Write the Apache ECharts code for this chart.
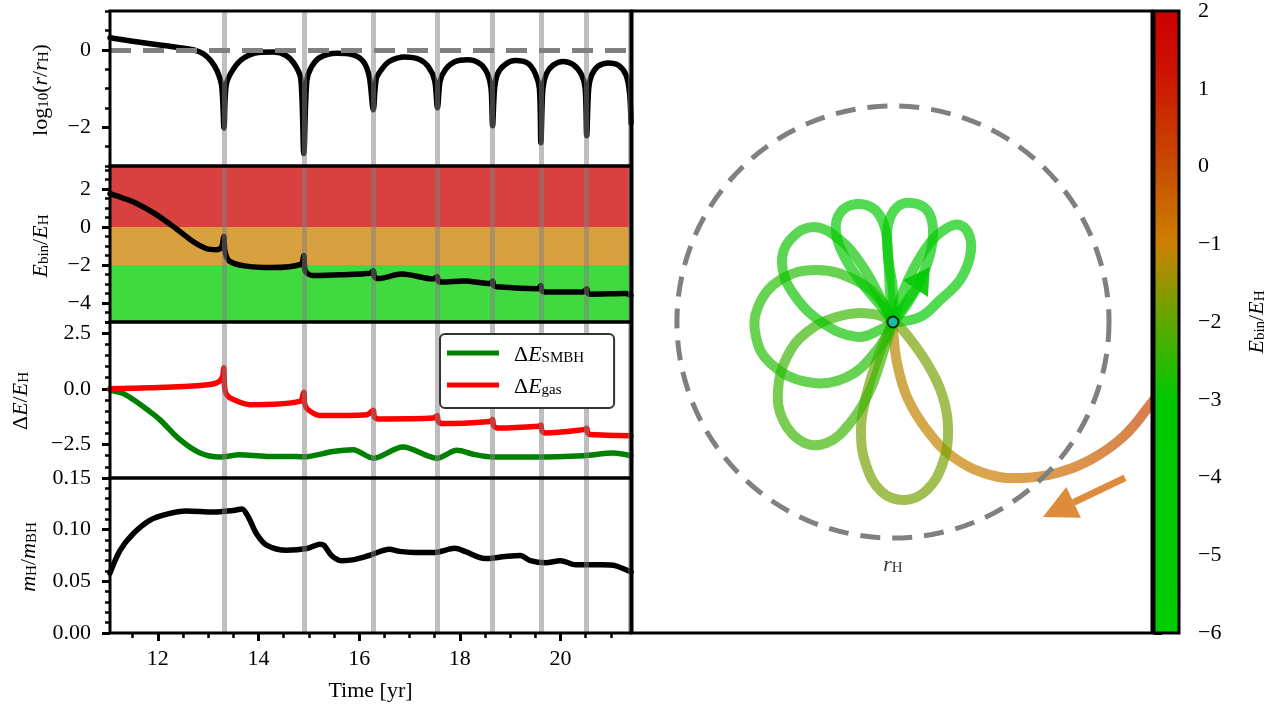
<!DOCTYPE html>
<html><head><meta charset="utf-8">
<script src="https://cdn.jsdelivr.net/npm/echarts@6/dist/echarts.min.js"></script>
<style>html,body{margin:0;padding:0;background:#fff}#c{width:1274px;height:710px}</style>
</head><body><div id="c"></div>
<script>
// ================= DATA =================
const tMin = 11.05, tMax = 21.4;
const pericenterTimes = [13.31, 14.9, 16.28, 17.55, 18.65, 19.61, 20.52, 21.38];

// panel 1 : log10(r / r_H)
const logRTime = [11.05,11.5,12.0,12.4,12.7,12.9,13.05,13.18,13.27,13.315,13.36,13.5,13.7,14.0,14.3,14.55,14.72,14.84,14.9,14.96,15.05,15.22,15.55,15.88,16.08,16.2,16.28,16.34,16.45,16.6,16.9,17.2,17.38,17.5,17.555,17.61,17.72,17.9,18.15,18.4,18.55,18.62,18.65,18.69,18.75,18.9,19.1,19.35,19.5,19.58,19.61,19.65,19.72,19.85,20.05,20.25,20.42,20.49,20.52,20.56,20.62,20.75,20.95,21.15,21.3,21.37,21.40];
const logRVal  = [0.31,0.22,0.13,0.06,0.0,-0.1,-0.28,-0.55,-0.95,-2.02,-0.9,-0.5,-0.22,-0.07,-0.06,-0.15,-0.38,-0.75,-2.68,-0.8,-0.45,-0.2,-0.09,-0.13,-0.3,-0.69,-1.55,-0.75,-0.5,-0.3,-0.19,-0.25,-0.45,-0.8,-1.5,-0.8,-0.5,-0.31,-0.26,-0.36,-0.62,-1.0,-1.96,-1.0,-0.62,-0.38,-0.28,-0.35,-0.62,-1.0,-2.4,-1.0,-0.62,-0.4,-0.3,-0.38,-0.65,-1.0,-2.22,-1.0,-0.65,-0.42,-0.34,-0.4,-0.65,-1.1,-1.89];

// panel 2 : E_bin / E_H
const ebinTime = [11.05,11.3,11.54,11.95,12.36,12.7,12.97,13.17,13.27,13.31,13.335,13.42,13.72,14.26,14.84,14.9,14.925,15.08,15.62,16.22,16.28,16.3,16.37,16.85,17.47,17.55,17.57,17.64,18.08,18.6,18.65,18.67,18.73,19.55,19.61,19.63,19.68,20.45,20.52,20.54,20.6,21.3,21.4];
const ebinVal  = [1.75,1.52,1.28,0.68,-0.09,-0.77,-1.15,-1.2,-1.05,-0.5,-1.3,-1.79,-2.05,-2.14,-1.97,-1.5,-2.3,-2.56,-2.51,-2.44,-2.3,-2.6,-2.72,-2.48,-2.74,-2.62,-2.85,-2.9,-2.84,-2.98,-2.85,-3.08,-3.15,-3.25,-3.08,-3.35,-3.42,-3.42,-3.25,-3.48,-3.54,-3.5,-3.62];
const bandEdges = [-5, -2, 0, 3.2];

// panel 3 : Delta E / E_H
const gasTime = [11.05,11.84,12.84,13.17,13.28,13.31,13.33,13.38,13.5,13.83,14.82,14.9,14.92,14.98,15.22,16.15,16.28,16.3,16.38,17.47,17.55,17.57,17.65,18.6,18.65,18.67,18.75,19.56,19.61,19.63,19.7,20.46,20.52,20.54,20.6,21.4];
const gasVal  = [0.0,0.05,0.15,0.27,0.5,0.95,0.0,-0.3,-0.48,-0.71,-0.56,-0.15,-0.7,-0.93,-1.2,-1.16,-0.96,-1.25,-1.35,-1.31,-1.2,-1.45,-1.56,-1.46,-1.38,-1.65,-1.76,-1.68,-1.62,-1.88,-1.98,-1.83,-1.77,-1.98,-2.05,-2.1];
const smbhTime = [11.05,11.3,11.51,11.8,12.04,12.44,12.84,13.23,13.63,14.16,14.6,14.9,15.48,15.88,16.28,16.87,17.54,17.94,18.3,18.66,19.46,20.45,21.05,21.4];
const smbhVal  = [-0.05,-0.2,-0.48,-0.95,-1.38,-2.28,-2.88,-3.06,-2.96,-3.03,-3.03,-3.05,-2.81,-2.73,-3.11,-2.61,-3.11,-2.76,-2.95,-3.06,-3.06,-3.0,-2.88,-3.0];

// panel 4 : m_H / m_BH
const massTime = [11.05,11.25,11.51,11.84,12.18,12.57,13.1,13.5,13.67,13.8,13.96,14.16,14.56,14.96,15.22,15.3,15.45,15.65,15.9,16.2,16.6,16.8,17.1,17.5,17.9,18.1,18.5,18.9,19.2,19.4,19.7,20.0,20.3,20.6,20.8,21.1,21.4];
const massVal  = [0.058,0.080,0.096,0.109,0.115,0.118,0.117,0.1186,0.120,0.112,0.096,0.085,0.080,0.0817,0.086,0.085,0.075,0.070,0.071,0.075,0.081,0.079,0.078,0.078,0.082,0.079,0.072,0.074,0.075,0.070,0.068,0.070,0.066,0.066,0.066,0.065,0.059];

// tick values
const xMajor = [12,14,16,18,20];
const xMinor = [11.5,12.5,13,13.5,14.5,15,15.5,16.5,17,17.5,18.5,19,19.5,20.5,21];
const y1Major = [0,-2], y1Minor = [-3,-2.5,-1.5,-1,-0.5,0.5,1];
const y2Major = [2,0,-2,-4], y2Minor = [-5,-4.5,-3.5,-3,-2.5,-1.5,-1,-0.5,0.5,1,1.5,2.5,3];
const y3Major = [2.5,0,-2.5], y3Minor = [-4,-3.5,-3,-2,-1.5,-1,-0.5,0.5,1,1.5,2,3];
const y4Major = [0,0.05,0.1,0.15], y4Minor = [0.01,0.02,0.03,0.04,0.06,0.07,0.08,0.09,0.11,0.12,0.13,0.14];

// right panel: trajectory in units of r_H (binary companion at origin)
const trajIncoming = [[1.282,-0.259],[1.190,-0.384],[1.065,-0.532],[0.912,-0.639],[0.759,-0.699],[0.602,-0.722],[0.449,-0.708],[0.278,-0.625],[0.157,-0.500],[0.065,-0.347],[0.019,-0.190],[0.0,-0.037],[0,0]];
const incomingE = [0.4,0.2,-0.1,-0.4,-0.65,-0.85,-0.95,-1.05,-1.1,-1.15,-1.2,-1.2,-1.2];
const petals = [
  [[0,0],[0.046,-0.037],[0.157,-0.190],[0.231,-0.347],[0.255,-0.500],[0.231,-0.653],[0.157,-0.778],[0.056,-0.824],[-0.051,-0.787],[-0.125,-0.662],[-0.148,-0.500],[-0.125,-0.347],[-0.074,-0.176],[-0.023,-0.051],[0,0]],
  [[0,0],[-0.093,0.037],[-0.245,0.028],[-0.398,-0.046],[-0.491,-0.162],[-0.532,-0.315],[-0.509,-0.454],[-0.417,-0.556],[-0.306,-0.560],[-0.199,-0.468],[-0.106,-0.315],[-0.046,-0.144],[0,0]],
  [[0,0],[-0.060,0.102],[-0.167,0.190],[-0.352,0.241],[-0.523,0.194],[-0.625,0.069],[-0.634,-0.069],[-0.569,-0.190],[-0.398,-0.278],[-0.213,-0.255],[-0.074,-0.130],[0,0]],
  [[0,0],[-0.060,0.116],[-0.139,0.255],[-0.245,0.380],[-0.370,0.440],[-0.477,0.380],[-0.514,0.273],[-0.463,0.134],[-0.324,-0.005],[-0.167,-0.069],[-0.060,-0.037],[0,0]],
  [[0,0],[-0.060,0.079],[-0.144,0.181],[-0.222,0.296],[-0.264,0.417],[-0.245,0.505],[-0.167,0.546],[-0.083,0.519],[-0.037,0.435],[-0.023,0.310],[-0.014,0.148],[0,0]],
  [[0,0],[0,0.148],[-0.023,0.310],[-0.023,0.449],[0.019,0.532],[0.088,0.551],[0.157,0.519],[0.185,0.435],[0.171,0.310],[0.116,0.171],[0.056,0.069],[0,0]],
  [[0,0],[0.032,0.102],[0.093,0.241],[0.171,0.366],[0.250,0.435],[0.310,0.449],[0.356,0.394],[0.356,0.301],[0.310,0.194],[0.218,0.102],[0.125,0.023],[0,0]]
];
const petalE = [-1.8,-2.4,-2.65,-2.85,-3.0,-3.2,-3.4];
const finalLeg = [[0,0,0.171,0.255]];
const incomingArrow = [[1.074,-0.722,0.694,-0.903]];
const hillRadius = [[0,0,1]];
const companion = [[0,0]];
const hillLabelPos = [0,-1.116];

// colour bar
const cbarMin = -6, cbarMax = 2;
const cmapV = [2, 1.2, 0, -1, -2, -3, -6];
const cmapC = ['#cc0000','#cc1400','#c84c00','#cc8000','#5ea800','#00c800','#00cc00'];

// ================= HELPERS =================
const FONT = 'Liberation Serif';
const zip = (a,b) => a.map((x,i)=>[x,b[i]]);
const hex2rgb = h => [1,3,5].map(i=>parseInt(h.substr(i,2),16));
function cmap(v){
  v = Math.max(cbarMin, Math.min(cbarMax, v));
  for (let i=0;i<cmapV.length-1;i++){
    if (v<=cmapV[i] && v>=cmapV[i+1]){
      const t=(cmapV[i]-v)/(cmapV[i]-cmapV[i+1]);
      const a=hex2rgb(cmapC[i]), b=hex2rgb(cmapC[i+1]);
      return 'rgb('+a.map((x,k)=>Math.round(x+(b[k]-x)*t)).join(',')+')';
    }
  }
  return cmapC[cmapC.length-1];
}
const minus = s => String(s).replace('-', '\u2212');
const rich = {
  rm: {fontFamily: FONT, fontSize: 22, lineHeight: 26, verticalAlign: 'bottom', color: '#000'},
  it: {fontFamily: FONT, fontSize: 22, fontStyle: 'italic', lineHeight: 26, verticalAlign: 'bottom', color: '#000'},
  sub:{fontFamily: FONT, fontSize: 15, lineHeight: 12, verticalAlign: 'bottom', color: '#000'}
};

const L = 110, W = 521;
const gridBase = {show: true, borderColor: '#000', borderWidth: 3, backgroundColor: 'transparent', z: 10};
const grids = [
  Object.assign({left: L, top: 11, width: W, height: 155}, gridBase),
  Object.assign({left: L, top: 166, width: W, height: 156}, gridBase),
  Object.assign({left: L, top: 322, width: W, height: 156}, gridBase),
  Object.assign({left: L, top: 478, width: W, height: 155}, gridBase),
  Object.assign({left: 632, top: 11, width: 520, height: 622}, gridBase),
  Object.assign({left: 1154, top: 11, width: 25, height: 622}, gridBase)
];

const hiddenX = gi => ({gridIndex: gi, type: 'value', min: tMin, max: tMax, axisLine:{show:false}, axisTick:{show:false}, axisLabel:{show:false}, splitLine:{show:false}});
const xAxes = [
  hiddenX(0), hiddenX(1), hiddenX(2),
  {gridIndex: 3, type: 'value', min: tMin, max: tMax, position: 'bottom', axisLine:{show:false}, splitLine:{show:false},
   axisTick:{customValues: xMajor, length: 8, lineStyle:{width:3, color:'#000'}},
   axisLabel:{customValues: xMajor, margin: 15, fontFamily: FONT, fontSize: 22, color:'#000'},
   name: 'Time [yr]', nameLocation: 'middle', nameGap: 47, nameTextStyle:{fontFamily: FONT, fontSize: 22, color:'#000'}},
  {gridIndex: 3, type: 'value', min: tMin, max: tMax, position: 'bottom', axisLine:{show:false}, splitLine:{show:false},
   axisTick:{customValues: xMinor, length: 5, lineStyle:{width:2.5, color:'#000'}}, axisLabel:{show:false}},
  {gridIndex: 4, type: 'value', min: -1.208, max: 1.199, show: false},
  {gridIndex: 5, type: 'value', min: 0, max: 1, show: false}
];

const mkY = (gi, min, max, major, minor, fmt) => [
  {gridIndex: gi, type:'value', min, max, position:'left', axisLine:{show:false}, splitLine:{show:false},
   axisTick:{customValues: major, length: 8, lineStyle:{width:3, color:'#000'}},
   axisLabel:{customValues: major, formatter: fmt, margin: 19, fontFamily: FONT, fontSize: 22, color:'#000'}},
  {gridIndex: gi, type:'value', min, max, position:'left', axisLine:{show:false}, splitLine:{show:false},
   axisTick:{customValues: minor, length: 5, lineStyle:{width:2.5, color:'#000'}}, axisLabel:{show:false}}
];
const yAxes = [].concat(
  mkY(0, -3, 1, y1Major, y1Minor, v => minus(v)),
  mkY(1, -5, 3.2, y2Major, y2Minor, v => minus(v)),
  mkY(2, -4, 3, y3Major, y3Minor, v => minus(v.toFixed(1))),
  mkY(3, 0, 0.15, y4Major, y4Minor, v => v.toFixed(2)),
  [{gridIndex: 4, type:'value', min: -1.44, max: 1.44, show: false},
   {gridIndex: 5, type:'value', min: cbarMin, max: cbarMax, interval: 1, position:'right', axisLine:{show:false}, splitLine:{show:false},
    axisTick:{length: 8, lineStyle:{width:3, color:'#000'}},
    minorTick:{show: true, splitNumber: 5, length: 5, lineStyle:{width:2.5, color:'#000'}},
    axisLabel:{margin: 19, formatter: v => minus(v), fontFamily: FONT, fontSize: 22, color:'#000'}}]
);

const periLines = gi => ({
  type: 'line', xAxisIndex: gi, yAxisIndex: gi*2, data: [], symbol: 'none', silent: true, z: 2,
  markLine: {silent: true, symbol: 'none', label: {show: false}, animation: false,
    lineStyle: {color: '#808080', opacity: 0.5, width: 5, type: 'solid'},
    emphasis: {disabled: true},
    data: pericenterTimes.map(t => ({xAxis: t}))}
});
const curve = (gi, name, data, color, z) => ({
  type: 'line', name, xAxisIndex: gi, yAxisIndex: gi*2, data, symbol: 'none', showSymbol: false, smooth: 0.3,
  lineStyle: {color, width: 5.5, cap: 'round', join: 'round'}, itemStyle: {color}, z: z || 3, silent: true
});

const series = [];
// panel 1
series.push(periLines(0));
series.push({type: 'line', xAxisIndex: 0, yAxisIndex: 0, data: [], symbol: 'none', silent: true, z: 2.5,
  markLine: {silent: true, symbol: 'none', label: {show:false}, emphasis:{disabled:true},
    lineStyle: {color: '#808080', width: 5, type: [21, 12]}, data: [{yAxis: 0}]}});
series.push(curve(0, 'logr', zip(logRTime, logRVal), '#000'));
// panel 2
series.push({type: 'line', xAxisIndex: 1, yAxisIndex: 2, data: [], symbol: 'none', silent: true, z: 1,
  markArea: {silent: true, emphasis:{disabled:true}, data: [
    [{yAxis: bandEdges[2], itemStyle: {color: cmapC[0], opacity: 0.75}}, {yAxis: bandEdges[3]}],
    [{yAxis: bandEdges[1], itemStyle: {color: cmapC[3], opacity: 0.75}}, {yAxis: bandEdges[2]}],
    [{yAxis: bandEdges[0], itemStyle: {color: cmapC[6], opacity: 0.75}}, {yAxis: bandEdges[1]}]
  ]}});
series.push(periLines(1));
series.push(curve(1, 'ebin', zip(ebinTime, ebinVal), '#000'));
// panel 3
series.push(periLines(2));
series.push(curve(2, 'SMBH', zip(smbhTime, smbhVal), '#008000'));
series.push(curve(2, 'gas', zip(gasTime, gasVal), '#ff0000'));
// panel 4
series.push(periLines(3));
series.push(curve(3, 'mass', zip(massTime, massVal), '#000'));

// right panel: trajectory (smooth polylines through the cartesian scale)
const incX = trajIncoming.map(p => p[0]);
const xLo = Math.min(...incX), xHi = Math.max(...incX);
const incStops = trajIncoming.map((p,i) => ({offset: (p[0]-xLo)/(xHi-xLo), color: cmap(incomingE[i])}))
  .sort((a,b) => a.offset - b.offset);
series.push({type: 'custom', xAxisIndex: 5, yAxisIndex: 8, data: [[0]], silent: true, z: 3, clip: true,
  renderItem: (params, api) => ({type: 'polyline',
    shape: {points: trajIncoming.map(p => api.coord(p)), smooth: 0.4},
    style: {fill: null, lineWidth: 10, opacity: 0.7,
      stroke: {type: 'linear', x: 0, y: 0, x2: 1, y2: 0, colorStops: incStops}}})});
series.push({type: 'custom', xAxisIndex: 5, yAxisIndex: 8, data: petals.map((p, i) => [i]), silent: true, z: 3,
  renderItem: (params, api) => {
    const i = params.dataIndex;
    return {type: 'polyline', shape: {points: petals[i].map(p => api.coord(p)), smooth: 0.4},
      style: {fill: null, stroke: cmap(petalE[i]), lineWidth: 10, opacity: 0.68}};
  }});

const arrowRender = (opts) => (params, api) => {
  const p0 = api.coord([api.value(0), api.value(1)]);
  const p1 = api.coord([api.value(2), api.value(3)]);
  const dx = p1[0]-p0[0], dy = p1[1]-p0[1], len = Math.hypot(dx, dy);
  const ux = dx/len, uy = dy/len;
  const bx = p1[0]-ux*opts.head, by = p1[1]-uy*opts.head;
  return {type: 'group', children: [
    {type: 'line', shape: {x1: p0[0], y1: p0[1], x2: bx, y2: by}, style: {stroke: opts.color, lineWidth: opts.shaft, opacity: opts.shaftOpacity}},
    {type: 'polygon', shape: {points: [[p1[0], p1[1]], [bx - uy*opts.half, by + ux*opts.half], [bx + uy*opts.half, by - ux*opts.half]]},
     style: {fill: opts.color, opacity: opts.headOpacity}}
  ]};
};
series.push({type: 'custom', xAxisIndex: 5, yAxisIndex: 8, data: finalLeg, silent: true, z: 4,
  renderItem: arrowRender({head: 26, half: 15, shaft: 10, color: cmap(petalE[6]), shaftOpacity: 0.68, headOpacity: 0.9})});
series.push({type: 'custom', xAxisIndex: 5, yAxisIndex: 8, data: incomingArrow, silent: true, z: 4,
  renderItem: arrowRender({head: 34, half: 17, shaft: 7, color: '#de8c3c', shaftOpacity: 1, headOpacity: 1})});
series.push({type: 'custom', xAxisIndex: 5, yAxisIndex: 8, data: hillRadius, silent: true, z: 5,
  renderItem: (params, api) => {
    const c = api.coord([api.value(0), api.value(1)]);
    const r = api.size([api.value(2), 0])[0];
    return {type: 'circle', shape: {cx: c[0], cy: c[1], r}, style: {fill: 'none', stroke: '#808080', lineWidth: 5, lineDash: [20, 12]}};
  }});
series.push({type: 'scatter', xAxisIndex: 5, yAxisIndex: 8, data: companion, symbolSize: 11, silent: true, z: 6,
  itemStyle: {color: '#17becf', borderColor: '#000', borderWidth: 2}});
series.push({type: 'scatter', xAxisIndex: 5, yAxisIndex: 8, data: [hillLabelPos], symbolSize: 0, silent: true, z: 6,
  label: {show: true, position: 'inside', formatter: '{it|r}{sub|H}', rich, color: '#000'}});

// colour bar
series.push({type: 'line', xAxisIndex: 6, yAxisIndex: 9, data: [], symbol: 'none', silent: true, z: 1,
  markArea: {silent: true, emphasis:{disabled:true}, data: [[
    {xAxis: 0, yAxis: cbarMin, itemStyle: {color: {type: 'linear', x: 0, y: 0, x2: 0, y2: 1,
      colorStops: cmapV.map((v,i) => ({offset: (cbarMax - v)/(cbarMax - cbarMin), color: cmapC[i]}))}, opacity: 1}},
    {xAxis: 1, yAxis: cbarMax}]]}});

const yTitle = (x, y, text) => ({type: 'text', x, y, rotation: Math.PI/2, z: 20,
  style: {text, rich, align: 'center', verticalAlign: 'middle', fill: '#000'}});

const chart = echarts.init(document.getElementById('c'), null, {renderer: 'canvas'});
chart.setOption({
  animation: false,
  backgroundColor: '#fff',
  textStyle: {fontFamily: FONT},
  grid: grids,
  xAxis: xAxes,
  yAxis: yAxes,
  legend: {data: ['SMBH', 'gas'], left: 440, top: 334, orient: 'vertical', selectedMode: false,
    backgroundColor: '#fff', borderColor: '#333', borderWidth: 2, borderRadius: 5,
    padding: [10, 30, 10, 7], itemWidth: 52, itemHeight: 5, itemGap: 10, z: 12,
    icon: 'rect',
    formatter: n => '{rm|\u0394}{it|E}{sub|' + n + '}',
    textStyle: {rich, padding: [0, 0, 0, 10]}},
  graphic: [
    yTitle(39, 90, '{rm|log}{sub|10}{rm|(}{it|r}{rm|/}{it|r}{sub|H}{rm|)}'),
    yTitle(39, 246, '{it|E}{sub|bin}{rm|/}{it|E}{sub|H}'),
    yTitle(19, 401, '{rm|\u0394}{it|E}{rm|/}{it|E}{sub|H}'),
    yTitle(27, 557, '{it|m}{sub|H}{rm|/}{it|m}{sub|BH}'),
    yTitle(1255, 322, '{it|E}{sub|bin}{rm|/}{it|E}{sub|H}')
  ],
  series
});
</script>
</body></html>
